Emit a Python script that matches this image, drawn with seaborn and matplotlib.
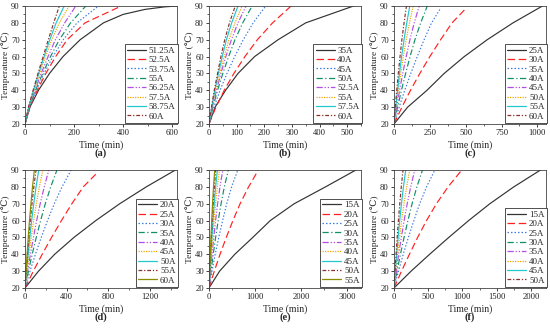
import pandas as pd
import matplotlib
matplotlib.use("Agg")
import matplotlib.pyplot as plt
import seaborn as sns
from matplotlib.ticker import MultipleLocator

# Temperature levels the curves pass through (deg C)
TEMPS = [20, 30, 40, 50, 60, 70, 80, 90]
TEMPS_88 = [20, 30, 40, 50, 60, 70, 80, 88]
TEMPS_SAT = [20, 30, 40, 50, 60, 70, 80, 85, 88, 89.5, 90]

# (a) time (min) at which each temperature level is reached
a_currents = ["51.25A", "52.5A", "53.75A", "55A", "56.25A", "57.5A", "58.75A", "60A"]
a_temps = [TEMPS_SAT] + [TEMPS] * 7
a_times = [
    [0, 20, 55, 100, 155, 225, 320, 400, 490, 570, 620],
    [0, 20, 50, 85, 125, 172, 245, 393],
    [0, 19, 46, 78, 114, 156, 212, 300],
    [0, 18, 43, 72, 104, 140, 186, 248],
    [0, 17, 40, 66, 94, 124, 162, 207],
    [0, 16, 37, 60, 84, 109, 140, 180],
    [0, 15, 35, 56, 78, 101, 127, 160],
    [0, 14, 33, 53, 74, 95, 117, 140],
]

# (b)
b_currents = ["35A", "40A", "45A", "50A", "52.5A", "55A", "57.5A", "60A"]
b_temps = [TEMPS] * 8
b_times = [
    [0, 22, 60, 105, 165, 250, 350, 523],
    [0, 25, 55, 90, 130, 175, 230, 297],
    [0, 18, 40, 65, 93, 124, 160, 205],
    [0, 14, 31, 50, 71, 94, 122, 156],
    [0, 12, 27, 43, 61, 81, 105, 134],
    [0, 11, 24, 39, 55, 72, 94, 120],
    [0, 10, 21, 34, 48, 63, 82, 105],
    [0, 9, 19, 31, 43, 57, 74, 95],
]

# (c)
c_currents = ["25A", "30A", "35A", "40A", "45A", "50A", "55A", "60A"]
c_temps = [TEMPS, TEMPS_88, TEMPS_88] + [TEMPS] * 5
c_times = [
    [0, 95, 230, 350, 490, 650, 830, 1035],
    [0, 55, 115, 180, 250, 325, 405, 495],
    [0, 36, 75, 117, 162, 210, 262, 320],
    [0, 25, 52, 81, 112, 146, 186, 232],
    [0, 19, 39, 61, 85, 111, 141, 176],
    [0, 14, 30, 47, 65, 85, 108, 134],
    [0, 12, 25, 38, 53, 70, 89, 110],
    [0, 9, 19, 30, 42, 55, 70, 87],
]

# (d)
d_currents = ["20A", "25A", "30A", "35A", "40A", "45A", "50A", "55A", "60A"]
d_temps = [TEMPS, TEMPS_88] + [TEMPS] * 7
d_times = [
    [0, 130, 285, 470, 680, 910, 1165, 1445],
    [0, 80, 165, 255, 350, 450, 560, 688],
    [0, 48, 100, 156, 216, 281, 356, 443],
    [0, 33, 69, 108, 150, 195, 247, 307],
    [0, 25, 52, 81, 112, 146, 185, 229],
    [0, 19, 39, 60, 83, 109, 138, 171],
    [0, 14, 30, 46, 64, 84, 106, 132],
    [0, 11, 24, 37, 51, 67, 85, 106],
    [0, 10, 20, 31, 43, 57, 72, 90],
]

# (e)
e_currents = ["15A", "20A", "25A", "30A", "35A", "40A", "45A", "50A", "55A"]
e_temps = [TEMPS] * 9
e_times = [
    [0, 230, 560, 950, 1330, 1850, 2530, 3190],
    [0, 115, 240, 375, 520, 675, 860, 1071],
    [0, 65, 135, 212, 295, 385, 490, 625],
    [0, 44, 92, 144, 200, 262, 333, 420],
    [0, 32, 66, 103, 143, 187, 238, 300],
    [0, 24, 50, 78, 109, 142, 181, 228],
    [0, 19, 40, 62, 87, 113, 144, 182],
    [0, 15, 32, 50, 70, 91, 116, 146],
    [0, 13, 27, 42, 59, 77, 98, 124],
]

# (f)
f_currents = ["15A", "20A", "25A", "30A", "35A", "40A", "45A", "50A"]
f_temps = [TEMPS] * 8
f_times = [
    [0, 250, 520, 800, 1090, 1400, 1750, 2140],
    [0, 110, 225, 345, 475, 620, 790, 990],
    [0, 65, 135, 210, 290, 375, 475, 597],
    [0, 45, 94, 147, 203, 264, 334, 416],
    [0, 33, 68, 107, 148, 193, 244, 303],
    [0, 25, 52, 81, 112, 146, 185, 230],
    [0, 19, 39, 60, 83, 109, 138, 171],
    [0, 14, 30, 46, 64, 84, 106, 132],
]

# Origin-like series styles, in series order
colors = ["#333333", "#ff2020", "#3d7be0", "#10906a", "#b24ee6",
          "#f0a400", "#22c8cc", "#8b2e2e", "#8c8a00"]
dash_list = ["", (6, 3), (1.2, 1.6), (5, 2, 1, 2), (5, 1.5, 1, 1.5, 1, 1.5),
             (1, 1), "", (3, 1.5, 1, 1.5), ""]

panels = [
    ("(a)", a_currents, a_temps, a_times, 620, 200),
    ("(b)", b_currents, b_temps, b_times, 550, 100),
    ("(c)", c_currents, c_temps, c_times, 1060, 250),
    ("(d)", d_currents, d_temps, d_times, 1460, 400),
    ("(e)", e_currents, e_temps, e_times, 3300, 1000),
    ("(f)", f_currents, f_temps, f_times, 2220, 500),
]

sns.set_theme(style="ticks")
plt.rcParams["font.family"] = ["Liberation Serif", "DejaVu Serif"]
plt.rcParams["axes.linewidth"] = 0.6

fig = plt.figure(figsize=(5.5, 3.31), dpi=100)
lefts = [25, 209, 394]
tops = [6, 170]
W, H = 550, 331

for i, (letter, currents, temps, times, xmax, xstep) in enumerate(panels):
    row, col = divmod(i, 3)
    left = lefts[col] / W
    bottom = 1 - (tops[row] + 118) / H
    ax = fig.add_axes([left, bottom, 152 / W, 118 / H])

    rows = []
    for cur, tt, tm in zip(currents, temps, times):
        for t, T in zip(tm, tt):
            rows.append({"Time": t, "Temp": T, "Current": cur})
    df = pd.DataFrame(rows)

    pal = {c: colors[k] for k, c in enumerate(currents)}
    dsh = {c: dash_list[k] for k, c in enumerate(currents)}
    sns.lineplot(data=df, x="Time", y="Temp", hue="Current", style="Current",
                 hue_order=currents, style_order=currents, palette=pal,
                 dashes=dsh, sort=False, estimator=None, linewidth=0.85, ax=ax)

    ax.set_xlim(0, xmax)
    ax.set_ylim(20, 90)
    ax.xaxis.set_major_locator(MultipleLocator(xstep))
    ax.xaxis.set_minor_locator(MultipleLocator(xstep / 2))
    ax.yaxis.set_major_locator(MultipleLocator(10))
    ax.yaxis.set_minor_locator(MultipleLocator(5))
    ax.tick_params(which="major", direction="out", length=2.5, width=0.6,
                   labelsize=6.2, pad=1.2, colors="#222222")
    ax.tick_params(which="minor", direction="out", length=1.5, width=0.5)
    for s in ax.spines.values():
        s.set_visible(True)
        s.set_color("#444444")
    ax.set_xlabel("Time (min)", fontsize=7, labelpad=2)
    ax.set_ylabel("Temperature (\u2103)", fontsize=6.8)
    ax.yaxis.set_label_coords(-0.098, 0.5)

    sns.move_legend(ax, "lower right", bbox_to_anchor=(1.005, 0.01),
                    title=None, frameon=True, fancybox=False, framealpha=1,
                    edgecolor="#333333", fontsize=6.5, handlelength=2.1,
                    handletextpad=0.3, labelspacing=0.12, borderpad=0.25,
                    borderaxespad=0.0)
    leg = ax.get_legend()
    leg.get_frame().set_linewidth(0.6)
    for line in leg.get_lines():
        line.set_linewidth(0.9)

    ax.text(0.5, -0.25, letter, transform=ax.transAxes, ha="center",
            va="center", fontsize=7.5, fontweight="bold")

fig.savefig("out.png", dpi=100)
